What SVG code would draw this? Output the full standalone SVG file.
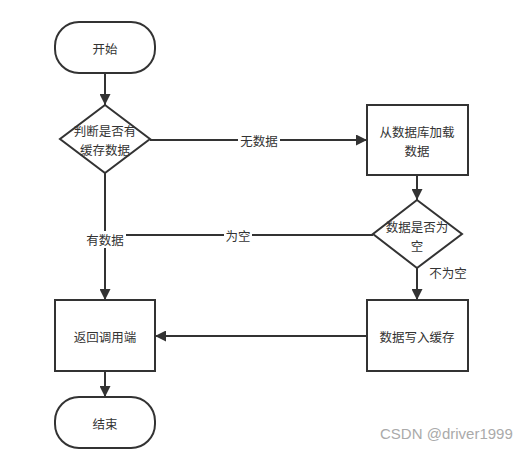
<svg xmlns="http://www.w3.org/2000/svg" width="532" height="450" viewBox="0 0 532 450">
<style>
.shape{fill:#fff;stroke:#333;stroke-width:2}
.line{fill:none;stroke:#333;stroke-width:2}
text{font-family:"Noto Sans CJK SC","Liberation Sans",sans-serif;font-size:12.5px;fill:#333;text-anchor:middle;dominant-baseline:central}
.lbl{fill:#fff}
.wm{font-family:"Liberation Sans",sans-serif;font-size:15px;fill:#aaa;text-anchor:start}
</style>
<defs>
<marker id="arr" viewBox="0 0 10 10" refX="10" refY="5" markerWidth="5.5" markerHeight="5.5" orient="auto" markerUnits="strokeWidth">
<path d="M0,0 L10,5 L0,10 Z" fill="#333"/>
</marker>
</defs>
<rect width="532" height="450" fill="#fff"/>
<g id="connectors">
<line class="line" x1="105" y1="73" x2="105" y2="105" marker-end="url(#arr)"/>
<line class="line" x1="150" y1="140" x2="367" y2="140" marker-end="url(#arr)"/>
<line class="line" x1="417" y1="175" x2="417" y2="200" marker-end="url(#arr)"/>
<line class="line" x1="105" y1="173" x2="105" y2="300" marker-end="url(#arr)"/>
<line class="line" x1="373" y1="235" x2="105" y2="235"/>
<line class="line" x1="417" y1="268" x2="417" y2="300" marker-end="url(#arr)"/>
<line class="line" x1="367" y1="336" x2="155" y2="336" marker-end="url(#arr)"/>
<line class="line" x1="105" y1="371" x2="105" y2="397" marker-end="url(#arr)"/>
<rect class="lbl" x="238" y="132" width="42" height="17"/>
<text x="259" y="140">无数据</text>
<rect class="lbl" x="224" y="227" width="28" height="17"/>
<text x="238" y="235">为空</text>
<rect class="lbl" x="85" y="231" width="41" height="17"/>
<text x="105" y="239">有数据</text>
<rect class="lbl" x="428" y="264" width="41" height="16"/>
<text x="448" y="272">不为空</text>
</g>
<g id="start">
<rect class="shape" x="55" y="22" width="100" height="51" rx="24" ry="24"/>
<text x="105" y="48">开始</text>
</g>
<g id="check-cache">
<path class="shape" d="M105,105 L150,139 L105,173 L60,139 Z"/>
<text x="105" y="130">判断是否有</text>
<text x="105" y="149">缓存数据</text>
</g>
<g id="load-db">
<rect class="shape" x="367" y="105" width="101" height="70"/>
<text x="417" y="131">从数据库加载</text>
<text x="417" y="150">数据</text>
</g>
<g id="check-empty">
<path class="shape" d="M417,200 L462,234 L417,268 L373,234 Z"/>
<text x="417" y="226">数据是否为</text>
<text x="417" y="245">空</text>
</g>
<g id="return">
<rect class="shape" x="55" y="300" width="100" height="71"/>
<text x="105" y="336">返回调用端</text>
</g>
<g id="write-cache">
<rect class="shape" x="367" y="300" width="101" height="71"/>
<text x="417" y="336">数据写入缓存</text>
</g>
<g id="end">
<rect class="shape" x="55" y="397" width="100" height="51" rx="24" ry="24"/>
<text x="105" y="423">结束</text>
</g>
<text class="wm" x="380" y="439" style="dominant-baseline:auto">CSDN @driver1999</text>
</svg>
